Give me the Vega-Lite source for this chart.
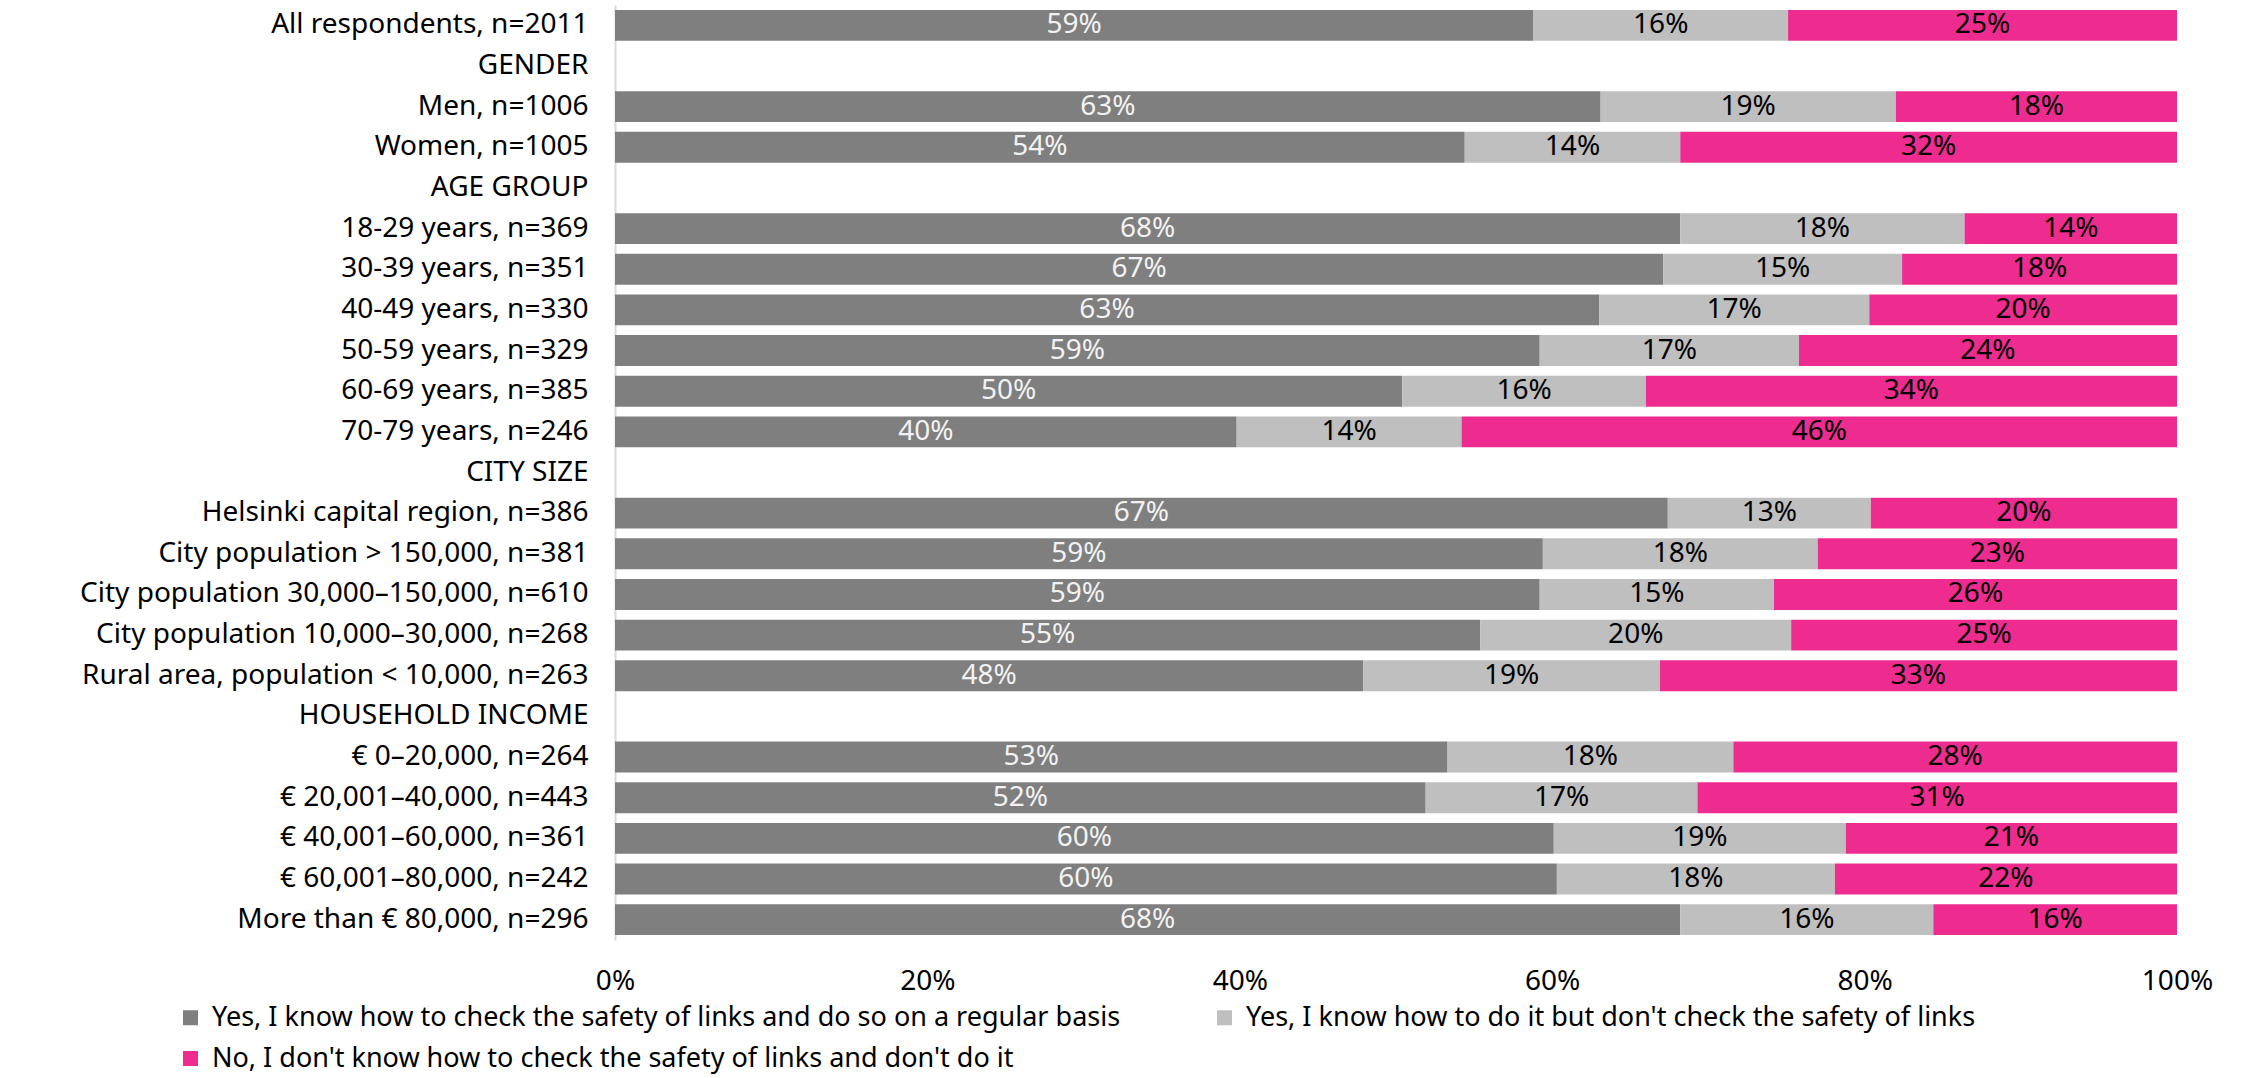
{
  "$schema": "https://vega.github.io/schema/vega-lite/v6.json",
  "width": 1562,
  "height": 935,
  "autosize": {"type": "none"},
  "padding": {"left": 615, "top": 5, "right": 64, "bottom": 138},
  "background": "white",
  "config": {
    "font": "Noto Sans",
    "view": {"stroke": null},
    "axis": {"labelFont": "Noto Sans", "labelColor": "#000000"},
    "legend": {"labelFont": "Noto Sans", "labelColor": "#000000"}
  },
  "data": {
    "values": [
      {"g": "All respondents, n=2011", "s": 1, "r": "Yes, I know how to check the safety of links and do so on a regular basis", "v": 0.588},
      {"g": "All respondents, n=2011", "s": 2, "r": "Yes, I know how to do it but don't check the safety of links", "v": 0.163},
      {"g": "All respondents, n=2011", "s": 3, "r": "No, I don't know how to check the safety of links and don't do it", "v": 0.249},
      {"g": "Men, n=1006", "s": 1, "r": "Yes, I know how to check the safety of links and do so on a regular basis", "v": 0.631},
      {"g": "Men, n=1006", "s": 2, "r": "Yes, I know how to do it but don't check the safety of links", "v": 0.189},
      {"g": "Men, n=1006", "s": 3, "r": "No, I don't know how to check the safety of links and don't do it", "v": 0.180},
      {"g": "Women, n=1005", "s": 1, "r": "Yes, I know how to check the safety of links and do so on a regular basis", "v": 0.544},
      {"g": "Women, n=1005", "s": 2, "r": "Yes, I know how to do it but don't check the safety of links", "v": 0.138},
      {"g": "Women, n=1005", "s": 3, "r": "No, I don't know how to check the safety of links and don't do it", "v": 0.318},
      {"g": "18-29 years, n=369", "s": 1, "r": "Yes, I know how to check the safety of links and do so on a regular basis", "v": 0.682},
      {"g": "18-29 years, n=369", "s": 2, "r": "Yes, I know how to do it but don't check the safety of links", "v": 0.182},
      {"g": "18-29 years, n=369", "s": 3, "r": "No, I don't know how to check the safety of links and don't do it", "v": 0.136},
      {"g": "30-39 years, n=351", "s": 1, "r": "Yes, I know how to check the safety of links and do so on a regular basis", "v": 0.671},
      {"g": "30-39 years, n=351", "s": 2, "r": "Yes, I know how to do it but don't check the safety of links", "v": 0.153},
      {"g": "30-39 years, n=351", "s": 3, "r": "No, I don't know how to check the safety of links and don't do it", "v": 0.176},
      {"g": "40-49 years, n=330", "s": 1, "r": "Yes, I know how to check the safety of links and do so on a regular basis", "v": 0.630},
      {"g": "40-49 years, n=330", "s": 2, "r": "Yes, I know how to do it but don't check the safety of links", "v": 0.173},
      {"g": "40-49 years, n=330", "s": 3, "r": "No, I don't know how to check the safety of links and don't do it", "v": 0.197},
      {"g": "50-59 years, n=329", "s": 1, "r": "Yes, I know how to check the safety of links and do so on a regular basis", "v": 0.592},
      {"g": "50-59 years, n=329", "s": 2, "r": "Yes, I know how to do it but don't check the safety of links", "v": 0.166},
      {"g": "50-59 years, n=329", "s": 3, "r": "No, I don't know how to check the safety of links and don't do it", "v": 0.242},
      {"g": "60-69 years, n=385", "s": 1, "r": "Yes, I know how to check the safety of links and do so on a regular basis", "v": 0.504},
      {"g": "60-69 years, n=385", "s": 2, "r": "Yes, I know how to do it but don't check the safety of links", "v": 0.156},
      {"g": "60-69 years, n=385", "s": 3, "r": "No, I don't know how to check the safety of links and don't do it", "v": 0.340},
      {"g": "70-79 years, n=246", "s": 1, "r": "Yes, I know how to check the safety of links and do so on a regular basis", "v": 0.398},
      {"g": "70-79 years, n=246", "s": 2, "r": "Yes, I know how to do it but don't check the safety of links", "v": 0.144},
      {"g": "70-79 years, n=246", "s": 3, "r": "No, I don't know how to check the safety of links and don't do it", "v": 0.458},
      {"g": "Helsinki capital region, n=386", "s": 1, "r": "Yes, I know how to check the safety of links and do so on a regular basis", "v": 0.674},
      {"g": "Helsinki capital region, n=386", "s": 2, "r": "Yes, I know how to do it but don't check the safety of links", "v": 0.130},
      {"g": "Helsinki capital region, n=386", "s": 3, "r": "No, I don't know how to check the safety of links and don't do it", "v": 0.196},
      {"g": "City population > 150,000, n=381", "s": 1, "r": "Yes, I know how to check the safety of links and do so on a regular basis", "v": 0.594},
      {"g": "City population > 150,000, n=381", "s": 2, "r": "Yes, I know how to do it but don't check the safety of links", "v": 0.176},
      {"g": "City population > 150,000, n=381", "s": 3, "r": "No, I don't know how to check the safety of links and don't do it", "v": 0.230},
      {"g": "City population 30,000–150,000, n=610", "s": 1, "r": "Yes, I know how to check the safety of links and do so on a regular basis", "v": 0.592},
      {"g": "City population 30,000–150,000, n=610", "s": 2, "r": "Yes, I know how to do it but don't check the safety of links", "v": 0.150},
      {"g": "City population 30,000–150,000, n=610", "s": 3, "r": "No, I don't know how to check the safety of links and don't do it", "v": 0.258},
      {"g": "City population 10,000–30,000, n=268", "s": 1, "r": "Yes, I know how to check the safety of links and do so on a regular basis", "v": 0.554},
      {"g": "City population 10,000–30,000, n=268", "s": 2, "r": "Yes, I know how to do it but don't check the safety of links", "v": 0.199},
      {"g": "City population 10,000–30,000, n=268", "s": 3, "r": "No, I don't know how to check the safety of links and don't do it", "v": 0.247},
      {"g": "Rural area, population < 10,000, n=263", "s": 1, "r": "Yes, I know how to check the safety of links and do so on a regular basis", "v": 0.479},
      {"g": "Rural area, population < 10,000, n=263", "s": 2, "r": "Yes, I know how to do it but don't check the safety of links", "v": 0.190},
      {"g": "Rural area, population < 10,000, n=263", "s": 3, "r": "No, I don't know how to check the safety of links and don't do it", "v": 0.331},
      {"g": "€ 0–20,000, n=264", "s": 1, "r": "Yes, I know how to check the safety of links and do so on a regular basis", "v": 0.533},
      {"g": "€ 0–20,000, n=264", "s": 2, "r": "Yes, I know how to do it but don't check the safety of links", "v": 0.183},
      {"g": "€ 0–20,000, n=264", "s": 3, "r": "No, I don't know how to check the safety of links and don't do it", "v": 0.284},
      {"g": "€ 20,001–40,000, n=443", "s": 1, "r": "Yes, I know how to check the safety of links and do so on a regular basis", "v": 0.519},
      {"g": "€ 20,001–40,000, n=443", "s": 2, "r": "Yes, I know how to do it but don't check the safety of links", "v": 0.174},
      {"g": "€ 20,001–40,000, n=443", "s": 3, "r": "No, I don't know how to check the safety of links and don't do it", "v": 0.307},
      {"g": "€ 40,001–60,000, n=361", "s": 1, "r": "Yes, I know how to check the safety of links and do so on a regular basis", "v": 0.601},
      {"g": "€ 40,001–60,000, n=361", "s": 2, "r": "Yes, I know how to do it but don't check the safety of links", "v": 0.187},
      {"g": "€ 40,001–60,000, n=361", "s": 3, "r": "No, I don't know how to check the safety of links and don't do it", "v": 0.212},
      {"g": "€ 60,001–80,000, n=242", "s": 1, "r": "Yes, I know how to check the safety of links and do so on a regular basis", "v": 0.603},
      {"g": "€ 60,001–80,000, n=242", "s": 2, "r": "Yes, I know how to do it but don't check the safety of links", "v": 0.178},
      {"g": "€ 60,001–80,000, n=242", "s": 3, "r": "No, I don't know how to check the safety of links and don't do it", "v": 0.219},
      {"g": "More than € 80,000, n=296", "s": 1, "r": "Yes, I know how to check the safety of links and do so on a regular basis", "v": 0.682},
      {"g": "More than € 80,000, n=296", "s": 2, "r": "Yes, I know how to do it but don't check the safety of links", "v": 0.162},
      {"g": "More than € 80,000, n=296", "s": 3, "r": "No, I don't know how to check the safety of links and don't do it", "v": 0.156}
    ]
  },
  "encoding": {
    "y": {
      "field": "g",
      "type": "nominal",
      "title": null,
      "scale": {
        "domain": [
          "All respondents, n=2011", "GENDER", "Men, n=1006", "Women, n=1005",
          "AGE GROUP", "18-29 years, n=369", "30-39 years, n=351", "40-49 years, n=330",
          "50-59 years, n=329", "60-69 years, n=385", "70-79 years, n=246",
          "CITY SIZE", "Helsinki capital region, n=386", "City population > 150,000, n=381",
          "City population 30,000–150,000, n=610", "City population 10,000–30,000, n=268",
          "Rural area, population < 10,000, n=263", "HOUSEHOLD INCOME",
          "€ 0–20,000, n=264", "€ 20,001–40,000, n=443", "€ 40,001–60,000, n=361",
          "€ 60,001–80,000, n=242", "More than € 80,000, n=296"
        ],
        "paddingInner": 0.24,
        "paddingOuter": 0.12
      },
      "axis": {
        "ticks": false,
        "domain": true,
        "domainColor": "#d9d9d9",
        "domainWidth": 2,
        "labelFontSize": 28,
        "labelPadding": 27,
        "labelLimit": 0,
        "grid": false
      }
    }
  },
  "layer": [
    {
      "mark": {"type": "bar"},
      "encoding": {
        "x": {
          "field": "v",
          "type": "quantitative",
          "stack": "zero",
          "title": null,
          "scale": {"domain": [0, 1], "nice": false},
          "axis": {
            "values": [0, 0.2, 0.4, 0.6, 0.8, 1],
            "format": ".0%",
            "grid": false,
            "ticks": false,
            "domain": false,
            "labelFontSize": 28,
            "labelPadding": 27,
            "labelFlush": false
          }
        },
        "color": {
          "field": "r",
          "type": "nominal",
          "scale": {
            "domain": [
              "Yes, I know how to check the safety of links and do so on a regular basis",
              "Yes, I know how to do it but don't check the safety of links",
              "No, I don't know how to check the safety of links and don't do it"
            ],
            "range": ["#7f7f7f", "#bfbfbf", "#ee2c8f"]
          },
          "legend": {
            "title": null,
            "orient": "none",
            "legendX": -438,
            "legendY": 999,
            "columns": 2,
            "direction": "horizontal",
            "symbolType": "square",
            "symbolSize": 225,
            "symbolStrokeWidth": 0,
            "labelFontSize": 27,
            "labelLimit": 0,
            "labelOffset": 8,
            "columnPadding": 90,
            "rowPadding": 13
          }
        },
        "order": {"field": "s", "type": "quantitative"}
      }
    },
    {
      "mark": {"type": "text", "fontSize": 28, "baseline": "middle", "align": "center"},
      "encoding": {
        "x": {"field": "v", "type": "quantitative", "stack": "zero", "bandPosition": 0.5},
        "detail": {"field": "r", "type": "nominal"},
        "order": {"field": "s", "type": "quantitative"},
        "text": {"field": "v", "type": "quantitative", "format": ".0%"},
        "color": {"condition": {"test": "datum.s == 1", "value": "#f2f2f2"}, "value": "#000000"}
      }
    }
  ]
}
